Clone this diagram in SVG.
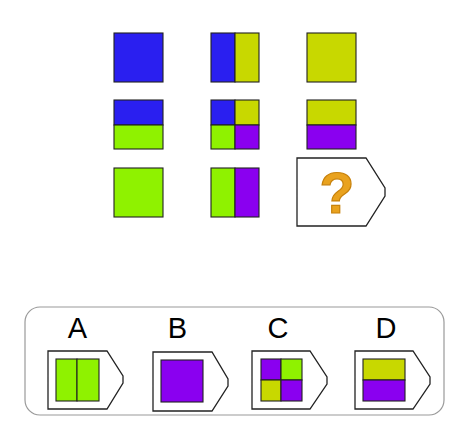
<svg xmlns="http://www.w3.org/2000/svg" width="475" height="435" viewBox="0 0 475 435">
<style>
.sq{stroke:#222;stroke-width:1.1}
.b{fill:#2a1ff0}
.y{fill:#c8d800}
.g{fill:#8ff200}
.p{fill:#8a00f0}
.pent{fill:#ffffff;stroke:#222;stroke-width:1.3}
.lbl{font-family:"Liberation Sans",Arial,sans-serif;font-size:29px;fill:#000;text-anchor:middle}
</style>
<rect width="475" height="435" fill="#ffffff"/>
<g id="r1c1"><rect class="sq b" x="114" y="33" width="49" height="49"/></g>
<g id="r1c2"><rect class="sq b" x="211" y="33" width="24" height="49"/><rect class="sq y" x="235" y="33" width="24" height="49"/></g>
<g id="r1c3"><rect class="sq y" x="307" y="33" width="49" height="49"/></g>
<g id="r2c1"><rect class="sq b" x="114" y="100" width="49" height="25"/><rect class="sq g" x="114" y="125" width="49" height="24"/></g>
<g id="r2c2"><rect class="sq b" x="211" y="100" width="24" height="25"/><rect class="sq y" x="235" y="100" width="24" height="25"/><rect class="sq g" x="211" y="125" width="24" height="24"/><rect class="sq p" x="235" y="125" width="24" height="24"/></g>
<g id="r2c3"><rect class="sq y" x="307" y="100" width="49" height="25"/><rect class="sq p" x="307" y="125" width="49" height="24"/></g>
<g id="r3c1"><rect class="sq g" x="114" y="168" width="49" height="49"/></g>
<g id="r3c2"><rect class="sq g" x="211" y="168" width="24" height="49"/><rect class="sq p" x="235" y="168" width="24" height="49"/></g>
<g id="question">
<polygon class="pent" points="297,158 366,158 385,188 385,196 366,226 297,226"/>
<text x="337" y="213" font-family="Liberation Sans,Arial,sans-serif" font-weight="bold" font-size="57" fill="#e9a21e" stroke="#c8820c" stroke-width="1.2" text-anchor="middle">?</text>
</g>
<g id="answers">
<rect x="25" y="307" width="419" height="108" rx="15" ry="15" fill="#ffffff" stroke="#9a9a9a" stroke-width="1.2"/>
</g>
<g id="optA">
<text class="lbl" x="77.5" y="338">A</text>
<polygon class="pent" points="48,351 107,351 123,376 123,383 107,409 48,409"/>
<rect class="sq g" x="56" y="359" width="21" height="42"/><rect class="sq g" x="77" y="359" width="22" height="42"/>
</g>
<g id="optB">
<text class="lbl" x="177.5" y="338">B</text>
<polygon class="pent" points="153,352 212,352 228,379 228,386 212,411 153,411"/>
<rect class="sq p" x="161" y="360" width="42" height="42"/>
</g>
<g id="optC">
<text class="lbl" x="278" y="338">C</text>
<polygon class="pent" points="252,351 310,351 327,377 327,384 310,409 252,409"/>
<rect class="sq p" x="261" y="359" width="20" height="21"/><rect class="sq g" x="281" y="359" width="21" height="21"/><rect class="sq y" x="261" y="380" width="20" height="21"/><rect class="sq p" x="281" y="380" width="21" height="21"/>
</g>
<g id="optD">
<text class="lbl" x="386" y="338">D</text>
<polygon class="pent" points="355,351 413,351 430,377 430,384 413,409 355,409"/>
<rect class="sq y" x="363" y="359" width="42" height="21"/><rect class="sq p" x="363" y="380" width="42" height="21"/>
</g>
<g id="connectors"></g>
</svg>
